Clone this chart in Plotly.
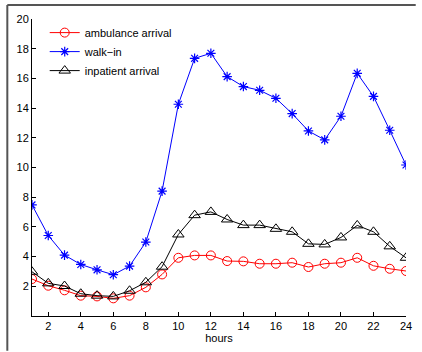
import plotly.graph_objects as go

hours = list(range(1, 25))
ambulance = [2.49, 2.04, 1.73, 1.37, 1.32, 1.19, 1.37, 1.93, 2.80, 3.92, 4.08, 4.08,
             3.70, 3.68, 3.52, 3.52, 3.59, 3.30, 3.52, 3.59, 3.92, 3.38, 3.18, 3.03]
walkin = [7.48, 5.42, 4.10, 3.47, 3.11, 2.78, 3.36, 4.98, 8.41, 14.26, 17.35, 17.69,
          16.12, 15.45, 15.20, 14.66, 13.63, 12.46, 11.86, 13.45, 16.34, 14.79, 12.51, 10.17]
inpatient = [2.98, 2.20, 2.02, 1.50, 1.37, 1.32, 1.70, 2.27, 3.32, 5.49, 6.79, 7.01,
             6.50, 6.12, 6.12, 5.87, 5.67, 4.86, 4.82, 5.29, 6.10, 5.67, 4.69, 3.92]
names = ["ambulance arrival", "walk\u2212in", "inpatient arrival"]
xticks = list(range(2, 25, 2))
yticks = list(range(2, 21, 2))

fig = go.Figure()
fig.add_trace(go.Scatter(x=hours, y=ambulance, name=names[0], mode="lines+markers",
                         line=dict(color="#ff0000", width=1),
                         marker=dict(symbol="circle-open", size=9, color="#ff0000", line=dict(width=1))))
fig.add_trace(go.Scatter(x=hours, y=walkin, name=names[1], mode="lines+markers",
                         line=dict(color="#0000ff", width=1),
                         marker=dict(symbol="asterisk-open", size=8, color="#0000ff", line=dict(width=1.2))))
fig.add_trace(go.Scatter(x=hours, y=inpatient, name=names[2], mode="lines+markers",
                         line=dict(color="#000000", width=1),
                         marker=dict(symbol="triangle-up-open", size=10, color="#000000", line=dict(width=1))))

axis_common = dict(showgrid=False, zeroline=False, showline=True, linecolor="#000000", linewidth=1,
                   ticks="inside", ticklen=4, tickcolor="#000000", tickwidth=1,
                   tickfont=dict(family="Liberation Sans, Arial", size=11, color="#000000"))
fig.update_xaxes(range=[1, 24], tickvals=xticks, title=dict(text="hours", standoff=2,
                 font=dict(family="Liberation Sans, Arial", size=11, color="#000000")), **axis_common)
fig.update_yaxes(range=[0, 20], tickvals=yticks, **axis_common)

fig.update_layout(
    width=422, height=352,
    margin=dict(l=32, r=10, t=19, b=35),
    plot_bgcolor="white", paper_bgcolor="white",
    font=dict(family="Liberation Sans, Arial", size=11, color="#000000"),
    legend=dict(x=0.034, y=1.003, xanchor="left", yanchor="top", bgcolor="rgba(255,255,255,0)",
                borderwidth=0, font=dict(size=11), tracegroupgap=0),
    shapes=[
        dict(type="line", xref="paper", yref="paper", x0=-0.066, x1=1.026, y0=1.047, y1=1.047,
             line=dict(color="#555555", width=2)),
        dict(type="line", xref="paper", yref="paper", x0=-0.066, x1=-0.066, y0=1.047, y1=-0.117,
             line=dict(color="#555555", width=2)),
    ],
)

fig.write_html("out.html", config={"displayModeBar": False},
               post_script="document.body.style.margin='0';document.body.style.overflow='hidden';")
